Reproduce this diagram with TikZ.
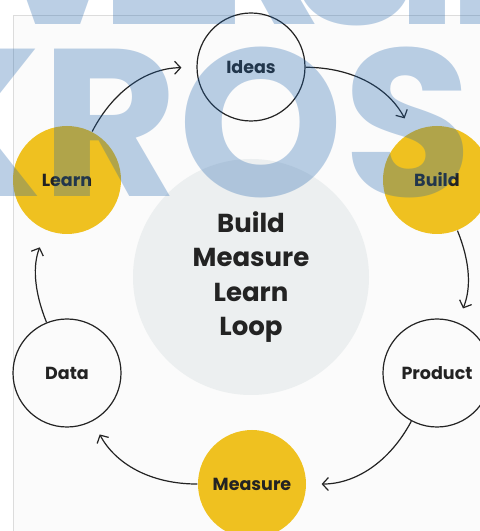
\documentclass[tikz,border=0pt]{standalone}
\usepackage{fontspec}
\setmainfont{Poppins}
\usetikzlibrary{arrows.meta}
\definecolor{loop-yellow}{HTML}{EFC120}
\definecolor{loop-ink}{HTML}{232323}
\definecolor{loop-core}{HTML}{ECEFF0}
\definecolor{loop-panel}{HTML}{FBFBFB}
\definecolor{loop-edge}{HTML}{DCDCDC}
\definecolor{mark-blue}{HTML}{1F63AC}
\tikzset{
    step-ring/.style = {circle, draw=loop-ink, line width=1.2pt, minimum size=108pt, inner sep=0pt, text=loop-ink, font=\fontsize{17.5}{20}\selectfont\bfseries},
    step-hot/.style = {step-ring, draw=none, fill=loop-yellow},
    loop-arrow/.style = {draw=loop-ink, line width=1.2pt, -{Straight Barb[length=6pt,width=13pt]}, shorten >=15pt},
    big-mark/.style = {inner sep=0pt, anchor=base, text=mark-blue, font=\fontsize{210}{210}\selectfont\bfseries},
}

\begin{document}
\begin{tikzpicture}[x=1pt, y=1pt]
\clip (0,0) rectangle (480,531);
\fill[white] (0,0) rectangle (480,531);
\fill[loop-panel] (13,0) rectangle (490,516);
\draw[loop-edge, line width=0.8pt] (13,0) -- (13,516) -- (490,516);
\node[circle, fill=loop-core, minimum size=236pt, inner sep=0pt, align=center, text=loop-ink,
      font=\fontsize{26}{34.5}\selectfont\bfseries] (core) at (251,254) {Build\\Measure\\Learn\\Loop};
\node[step-ring] (ideas) at (251,464) {Ideas};
\node[step-hot] (build) at (437,351) {Build};
\node[step-ring] (product) at (437,158) {Product};
\node[step-hot] (measure) at (252,47) {Measure};
\node[step-ring] (data) at (67,158) {Data};
\node[step-hot] (learn) at (67,351) {Learn};
\draw[loop-arrow] (learn) to[bend left=31] (ideas);
\draw[loop-arrow] (ideas) to[bend left=31] (build);
\draw[loop-arrow] (build) to[bend left=22] (product);
\draw[loop-arrow] (product) to[bend left=31] (measure);
\draw[loop-arrow] (measure) to[bend left=31] (data);
\draw[loop-arrow, shorten >=18pt] (data) to[bend left=22] (learn);
\begin{scope}[transparency group, opacity=0.3]
\foreach \ch/\x in {V/58, E/157, R/255, S/355, I/427, T/479}
    \node[big-mark] (mark-\ch) at (\x,506) {\ch};
\node[big-mark, anchor=base west] (mark-main) at (-105,334) {KROS};
\end{scope}
\end{tikzpicture}
\end{document}
